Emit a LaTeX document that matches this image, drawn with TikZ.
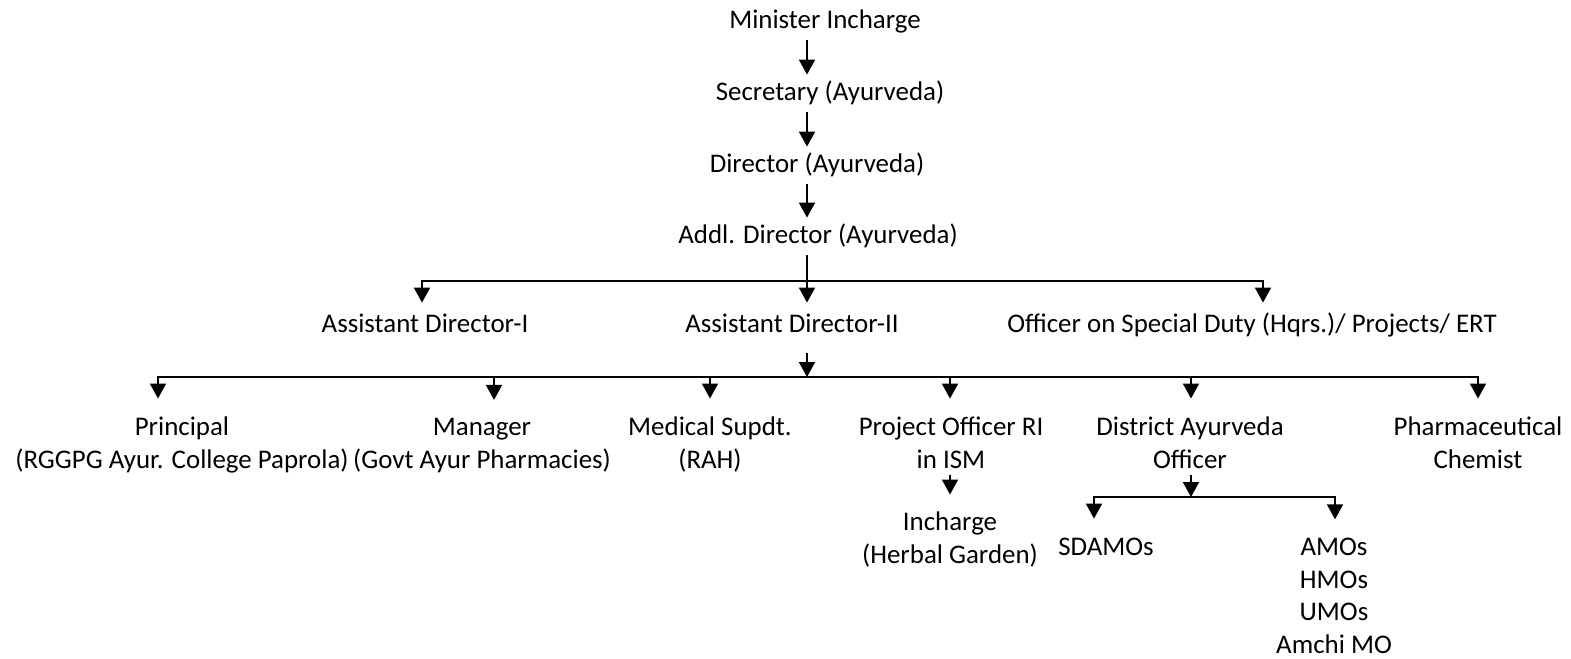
\documentclass[tikz,border=0pt]{standalone}
\usepackage{fontspec}
\setmainfont{Carlito}
\usepackage{tikz}
\usetikzlibrary{arrows.meta}

\tikzset{
  post/.style={font=\fontsize{13.45}{16.2}\selectfont, inner xsep=0pt, inner ysep=3pt, align=center, anchor=base},
  single/.style={post, text height=9.5pt, text depth=3pt},
  arr/.style={-{Triangle[width=8pt,length=7.5pt]}, line width=0.9pt},
  drop/.style={arr, shorten >=6pt},
  bus/.style={line width=0.9pt, line cap=rect}
}

\begin{document}
\begin{tikzpicture}[x=0.5pt, y=-0.5pt]
\useasboundingbox (0,0) rectangle (1571,659);
% top of the chart
\node[single] (minister) at (825,28) {Minister Incharge};
\node[single] (secretary) at (830,100) {Secretary (Ayurveda)};
\node[single] (director) at (817,172) {Director (Ayurveda)};
\node[single] (addl) at (818,243) {Addl. Director (Ayurveda)};
\coordinate (trunk) at (807,0);
\draw[arr] (minister.south -| trunk) -- (secretary.north -| trunk);
\draw[arr] (secretary.south -| trunk) -- (director.north -| trunk);
\draw[arr] (director.south -| trunk) -- (addl.north -| trunk);

% assistant directors
\node[single] (adone) at (425,332) {Assistant Director-I};
\node[single] (adtwo) at (792,332) {Assistant Director-II};
\node[single] (osd) at (1252,332) {Officer on Special Duty (Hqrs.)/ Projects/ ERT};
\coordinate (aone) at (422,281);
\coordinate (athree) at (1263,281);
\draw[bus] (aone) -- (athree);
\draw[arr] (addl.south -| trunk) -- ([yshift=2pt]adtwo.north -| trunk);
\draw[arr] (aone) -- ([yshift=2pt]aone |- adone.north);
\draw[arr] (athree) -- ([yshift=2pt]athree |- osd.north);

% offices under Assistant Director-II
\node[post] (principal) at (182,468) {Principal\\(RGGPG Ayur. College Paprola)};
\node[post] (manager) at (482,468) {Manager\\(Govt Ayur Pharmacies)};
\node[post] (medsup) at (710,468) {Medical Supdt.\\(RAH)};
\node[post] (projoff) at (951,468) {Project Officer RI\\in ISM};
\node[post] (dao) at (1190,468) {District Ayurveda\\Officer};
\node[post] (pharma) at (1478,468) {Pharmaceutical\\Chemist};
\coordinate (btwo) at (807,377);
\coordinate (bleft) at (158,377);
\coordinate (bright) at (1478,377);
\draw[bus] (bleft) -- (bright);
\draw[arr, shorten <=4.5pt] (adtwo.south -| trunk) -- (btwo);
\foreach \n/\x in {principal/158, manager/494, medsup/710, projoff/950, dao/1191, pharma/1478}
  \draw[drop] (\x,377) -- (\x,377 |- \n.north);

% lowest level
\node[post] (incharge) at (950,563) {Incharge\\(Herbal Garden)};
\node[single] (sdamos) at (1106,555) {SDAMOs};
\node[post] (amos) at (1334,653) {AMOs\\HMOs\\UMOs\\Amchi MO};
\draw[arr, shorten >=5.5pt] (projoff.south -| incharge) -- (incharge.north);
\coordinate (bthree) at (1191,497);
\coordinate (cleft) at (1094,497);
\coordinate (cright) at (1335,497);
\draw[bus] (cleft) -- (cright);
\draw[arr] (dao.south -| bthree) -- (bthree);
\draw[arr, shorten >=5.5pt] (cleft) -- (cleft |- sdamos.north);
\draw[arr, shorten >=6.3pt] (cright) -- (cright |- amos.north);
\end{tikzpicture}
\end{document}
